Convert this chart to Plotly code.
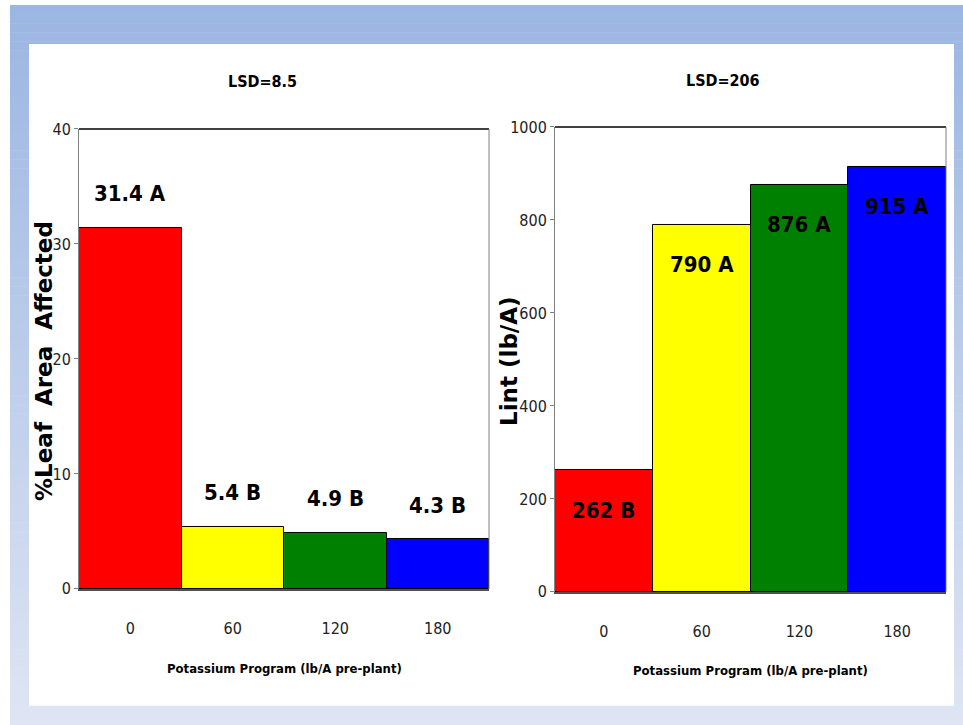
import plotly.graph_objects as go

categories = ["0", "60", "120", "180"]
leaf_area = [31.4, 5.4, 4.9, 4.3]
leaf_letters = ["A", "B", "B", "B"]
lint = [262, 790, 876, 915]
lint_letters = ["B", "A", "A", "A"]
bar_colors = ["#FF0000", "#FFFF00", "#008000", "#0000FF"]
left_title = "LSD=8.5"
right_title = "LSD=206"
x_title = "Potassium Program (lb/A pre-plant)"
left_ytitle = "%Leaf  Area  Affected"
right_ytitle = "Lint (lb/A)"

W, H = 963, 725
NARROW = "DejaVu Sans Condensed, Liberation Sans Narrow, Arial Narrow, sans-serif"
WIDE = "DejaVu Sans, Verdana, sans-serif"

# observed vertical mapping of the rendered page: shown_y = 8 + 0.974 * layout_y
V_OFF, V_SCALE = 8.0, 0.974


def px(x):
    return x / W


def py(y):
    return 1 - ((y - V_OFF) / V_SCALE) / H


fig = go.Figure()

fig.add_trace(go.Bar(x=categories, y=leaf_area, marker=dict(color=bar_colors, line=dict(color="black", width=1)),
                     xaxis="x", yaxis="y", showlegend=False, hoverinfo="x+y"))
fig.add_trace(go.Bar(x=categories, y=lint, marker=dict(color=bar_colors, line=dict(color="black", width=1)),
                     xaxis="x2", yaxis="y2", showlegend=False, hoverinfo="x+y"))

# background gradient
shapes = []
top_c = (155, 182, 226)
bot_c = (223, 229, 243)
y0p, y1p = 4, 730
n = 80
for i in range(n):
    a = y0p + (y1p - y0p) * i / n
    b = y0p + (y1p - y0p) * (i + 1) / n
    t = i / (n - 1)
    c = tuple(round(top_c[k] + (bot_c[k] - top_c[k]) * t) for k in range(3))
    shapes.append(dict(type="rect", xref="paper", yref="paper", x0=px(10), x1=1, y0=py(b + 0.5), y1=py(a),
                       fillcolor="rgb(%d,%d,%d)" % c, line=dict(width=0), layer="below"))
shapes.append(dict(type="rect", xref="paper", yref="paper", x0=px(29), x1=px(954), y0=py(705), y1=py(43),
                   fillcolor="white", line=dict(width=0), layer="below"))
shapes.append(dict(type="line", xref="x domain", yref="y domain", x0=0, x1=1, y0=1, y1=1, line=dict(color="black", width=1.5)))
shapes.append(dict(type="line", xref="x2 domain", yref="y2 domain", x0=0, x1=1, y0=1, y1=1, line=dict(color="black", width=1.5)))
shapes.append(dict(type="line", xref="x domain", yref="y domain", x0=1, x1=1, y0=0, y1=1, line=dict(color="#808080", width=1)))
shapes.append(dict(type="line", xref="x2 domain", yref="y2 domain", x0=1, x1=1, y0=0, y1=1, line=dict(color="#808080", width=1)))

annotations = []
for i, (v, l) in enumerate(zip(leaf_area, leaf_letters)):
    annotations.append(dict(x=i, y=v, xref="x", yref="y", text="<b>%s %s</b>" % (v, l), showarrow=False,
                            xanchor="center", yanchor="middle", yshift=34,
                            font=dict(family=NARROW, size=22, color="black")))
for i, (v, l) in enumerate(zip(lint, lint_letters)):
    annotations.append(dict(x=i, y=v, xref="x2", yref="y2", text="<b>%s %s</b>" % (v, l), showarrow=False,
                            xanchor="center", yanchor="middle", yshift=-40,
                            font=dict(family=NARROW, size=22, color="black")))


def paper_text(x, y, text, font, angle=0):
    return dict(x=px(x), y=py(y), xref="paper", yref="paper", text=text, showarrow=False,
                xanchor="center", yanchor="middle", textangle=angle, font=font)


annotations += [
    paper_text(262, 81, "<b>%s</b>" % left_title, dict(family=NARROW, size=16, color="black")),
    paper_text(723, 80, "<b>%s</b>" % right_title, dict(family=NARROW, size=16, color="black")),
    paper_text(284, 668, "<b>%s</b>" % x_title, dict(family=NARROW, size=13, color="black")),
    paper_text(750, 670, "<b>%s</b>" % x_title, dict(family=NARROW, size=13, color="black")),
    paper_text(44, 360, "<b>%s</b>" % left_ytitle, dict(family=WIDE, size=23, color="black"), -90),
    paper_text(509, 360, "<b>%s</b>" % right_ytitle, dict(family=WIDE, size=23, color="black"), -90),
]

xcommon = dict(type="category", range=[-0.5, 3.5], showgrid=False, showline=True, linecolor="#505050", linewidth=1.5,
               mirror=False, ticks="", ticklabelstandoff=24, tickfont=dict(family=NARROW, size=16, color="#222"),
               fixedrange=True)
ycommon = dict(showgrid=False, showline=True, linecolor="#808080", linewidth=1, zeroline=False, ticks="outside",
               ticklen=4, tickcolor="#808080", tickfont=dict(family=NARROW, size=16, color="#222"), fixedrange=True)

fig.update_layout(
    width=W, height=H, margin=dict(l=0, r=0, t=0, b=0),
    paper_bgcolor="white", plot_bgcolor="white", bargap=0,
    xaxis=dict(domain=[px(79), px(489)], anchor="y", **xcommon),
    yaxis=dict(domain=[py(588), py(128)], anchor="x", range=[0, 40], tickvals=[0, 10, 20, 30, 40], **ycommon),
    xaxis2=dict(domain=[px(555), px(946)], anchor="y2", **xcommon),
    yaxis2=dict(domain=[py(591), py(126)], anchor="x2", range=[0, 1000], tickvals=[0, 200, 400, 600, 800, 1000], **ycommon),
    shapes=shapes, annotations=annotations,
)

fig.write_html("out.html")
